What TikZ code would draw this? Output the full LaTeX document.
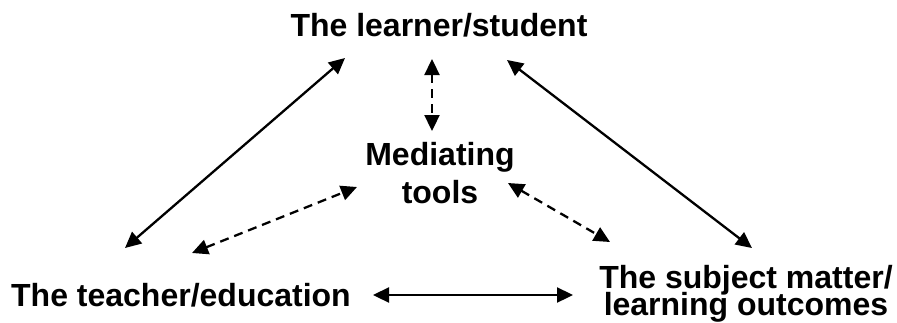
\documentclass[tikz,border=0pt]{standalone}
\usepackage{fontspec}
\setmainfont{Liberation Sans}
\usetikzlibrary{arrows.meta}
\newcommand\tightlines{\lineskiplimit=-20pt\relax}
\begin{document}
\begin{tikzpicture}[x=1pt,y=-1pt,
  every node/.style={inner sep=0pt,anchor=base,align=center,font=\fontsize{32}{36}\selectfont\bfseries},
  every path/.style={line width=2.3pt},
  >={Triangle[length=16pt,width=15pt]},
  link/.style={<->},
  mediated/.style={<->,dash pattern=on 9pt off 6pt}]
\useasboundingbox (0,0) rectangle (897,322);
\node (learner) at (439,36) {The learner/student};
\node[font=\fontsize{32}{38}\selectfont\bfseries] (tools) at (440,203) {Mediating\\tools};
\node (teacher) at (181,306) {The teacher/education};
\node[font={\fontsize{32}{27}\selectfont\bfseries\tightlines}] (subject) at (746,315) {The subject matter/\\learning outcomes};
\draw[link] ([shift={(-94,22)}]learner.base) to ([shift={(-56,-58)}]teacher.base);
\draw[link] ([shift={(68,24)}]learner.base) to ([shift={(6,-67)}]subject.base);
\draw[link] ([shift={(192,-11)}]teacher.base) to ([shift={(-173,-20)}]subject.base);
\draw[mediated] ([shift={(-7,23)}]learner.base) to ([shift={(-8,-72)}]tools.base);
\draw[mediated] ([shift={(11,-53)}]teacher.base) to ([shift={(-83,-16)}]tools.base);
\draw[mediated] ([shift={(68,-20)}]tools.base) to ([shift={(-136,-73)}]subject.base);
\end{tikzpicture}
\end{document}
